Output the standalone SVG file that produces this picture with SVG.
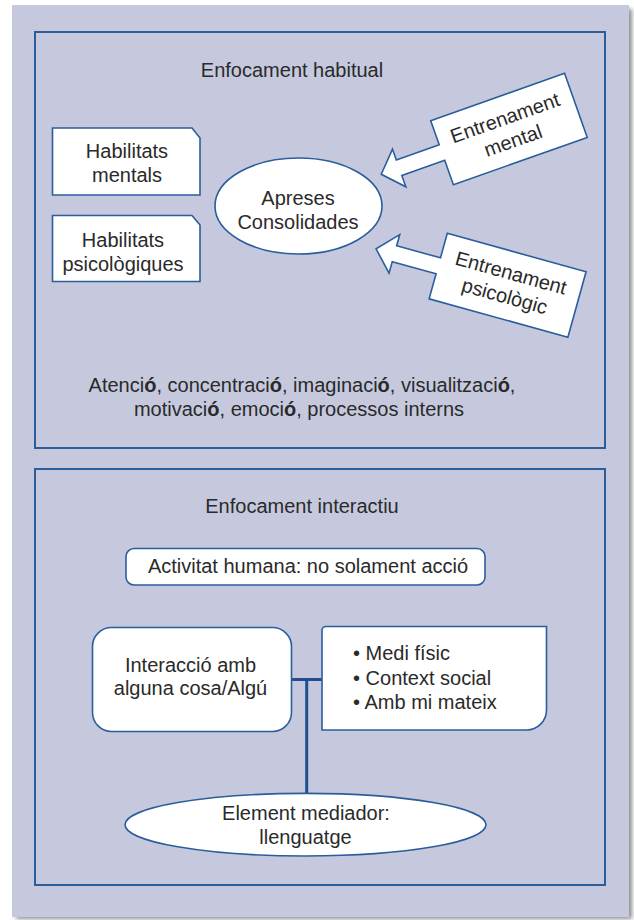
<svg xmlns="http://www.w3.org/2000/svg" width="634" height="920" viewBox="0 0 634 920">
<defs>
<filter id="sh" x="-5%" y="-5%" width="110%" height="110%"><feGaussianBlur stdDeviation="2"/></filter>
</defs>
<style>
.t{font-family:"Liberation Sans",Arial,sans-serif;font-size:20px;fill:#2a2a2a}
.m{text-anchor:middle}
.frame{fill:none;stroke:#2a5d9c;stroke-width:2}
.node{fill:#ffffff;stroke:#2a5d9c;stroke-width:1.6}
.conn{fill:none;stroke:#1f4f8f;stroke-width:3}
b,.b{font-weight:bold}
</style>
<rect x="16" y="9" width="616" height="910" fill="#8f8f8f" filter="url(#sh)"/>
<rect x="12" y="5" width="617" height="912" fill="#c6c9de"/>
<g id="panel-habitual">
<rect class="frame" x="35" y="32" width="570" height="416"/>
<text class="t m" x="292" y="77">Enfocament habitual</text>
</g>
<g id="hab-mentals">
<path class="node" d="M52.5,128 H192 L200,138 V195 H52.5 Z"/>
<text class="t m" x="127" y="158">Habilitats</text>
<text class="t m" x="127" y="182">mentals</text>
</g>
<g id="hab-psico">
<path class="node" d="M52.5,215.5 H192 L200,225 V281.5 H52.5 Z"/>
<text class="t m" x="123" y="247">Habilitats</text>
<text class="t m" x="123" y="271">psicològiques</text>
</g>
<g id="apreses">
<ellipse class="node" cx="298.5" cy="206" rx="83.5" ry="48"/>
<text class="t m" x="298" y="205">Apreses</text>
<text class="t m" x="298" y="229">Consolidades</text>
</g>
<g id="entr-mental" transform="translate(430.7,120.7) rotate(-19.5)">
<path class="node" d="M0,0 L142,0 L142,68 L0,68 L0,42 L-45.5,42 L-45.5,54 L-64.5,34 L-45.5,14 L-45.5,25.5 L0,25.5 Z"/>
<text class="t m" x="71" y="29">Entrenament</text>
<text class="t m" x="71" y="53">mental</text>
</g>
<g id="entr-psico" transform="translate(447.3,233.3) rotate(15.5)">
<path class="node" d="M0,0 L144,0 L144,68 L0,68 L0,42 L-45.5,42 L-45.5,54 L-64.5,34 L-45.5,14 L-45.5,25.5 L0,25.5 Z"/>
<text class="t m" x="72" y="28">Entrenament</text>
<text class="t m" x="72" y="52">psicològic</text>
</g>
<g id="processos">
<text class="t m" x="302" y="392">Atenci<tspan class="b">ó</tspan>, concentraci<tspan class="b">ó</tspan>, imaginaci<tspan class="b">ó</tspan>, visualitzaci<tspan class="b">ó</tspan>,</text>
<text class="t m" x="299" y="416">motivaci<tspan class="b">ó</tspan>, emoci<tspan class="b">ó</tspan>, processos interns</text>
</g>
<g id="panel-interactiu">
<rect class="frame" x="35" y="469" width="570" height="416"/>
<text class="t m" x="302" y="513">Enfocament interactiu</text>
</g>
<g id="activitat">
<rect class="node" x="126" y="548.5" width="359" height="36.5" rx="8"/>
<text class="t m" x="308" y="573">Activitat humana: no solament acció</text>
</g>
<g id="connectors">
<line class="conn" x1="291.5" y1="679.5" x2="322" y2="679.5"/>
<line class="conn" x1="306.7" y1="679.5" x2="306.7" y2="793.5"/>
</g>
<g id="interaccio">
<rect class="node" x="92.5" y="627.5" width="199" height="104" rx="19"/>
<text class="t m" x="190.5" y="672">Interacció amb</text>
<text class="t m" x="190.5" y="695">alguna cosa/Algú</text>
</g>
<g id="contextos">
<path class="node" d="M326,626.5 H546.5 V710 A20,20 0 0 1 526.5,730 H322 V630.5 A4,4 0 0 1 326,626.5 Z"/>
<text class="t" x="353" y="660">• Medi físic</text>
<text class="t" x="353" y="685">• Context social</text>
<text class="t" x="353" y="709">• Amb mi mateix</text>
</g>
<g id="mediador">
<ellipse class="node" cx="305.5" cy="824.7" rx="180.5" ry="31.3"/>
<text class="t m" x="306" y="820">Element mediador:</text>
<text class="t m" x="305.5" y="843.5">llenguatge</text>
</g>
</svg>
